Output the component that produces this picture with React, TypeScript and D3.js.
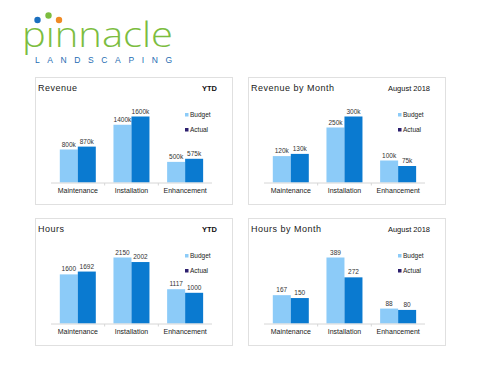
import * as d3 from 'd3';

const categories = ['Maintenance', 'Installation', 'Enhancement'];
const seriesNames = ['Budget', 'Actual'];

const revenueBudget = [800, 1400, 500];
const revenueActual = [870, 1600, 575];
const revenueMonthBudget = [120, 250, 100];
const revenueMonthActual = [130, 300, 75];
const hoursBudget = [1600, 2150, 1117];
const hoursActual = [1692, 2002, 1000];
const hoursMonthBudget = [167, 389, 88];
const hoursMonthActual = [150, 272, 80];

const panels = [
  { title: 'Revenue', period: 'YTD', budget: revenueBudget, actual: revenueActual, suffix: 'k', x: 35, y: 77 },
  { title: 'Revenue by Month', period: 'August 2018', budget: revenueMonthBudget, actual: revenueMonthActual, suffix: 'k', x: 248, y: 77 },
  { title: 'Hours', period: 'YTD', budget: hoursBudget, actual: hoursActual, suffix: '', x: 35, y: 218 },
  { title: 'Hours by Month', period: 'August 2018', budget: hoursMonthBudget, actual: hoursMonthActual, suffix: '', x: 248, y: 218 },
];

const BUDGET = '#8ccbf8';
const ACTUAL = '#0a7ad0';
const LEGEND = ['#8ccbf8', '#2c1f6e'];
const FONT = '"Liberation Sans", Arial, sans-serif';

const PW = 197;
const PH = 127;
const BASE = 105.5;

function Panel({ p }: { p: (typeof panels)[number] }) {
  const x0 = d3.scaleBand<string>().domain(categories).range([16, 177]);
  const x1 = d3.scaleBand<string>().domain(seriesNames).range([8.8, 44.8]);
  const max = d3.max([...p.budget, ...p.actual]) ?? 1;
  const y = d3.scaleLinear().domain([0, max]).range([BASE, BASE - 66]);
  const rows = categories.map((c, i) => ({ c, vals: [p.budget[i], p.actual[i]] }));

  return (
    <g transform={`translate(${p.x},${p.y})`}>
      <rect x={0.5} y={0.5} width={PW} height={PH} fill="#fff" stroke="#e0e0e0" />
      <text x={3} y={14} fontSize={9} letterSpacing={0.5} fill="#222">{p.title}</text>
      <text x={182} y={14} fontSize={7.5} textAnchor="end" fill="#111" fontWeight={p.period === 'YTD' ? 'bold' : 'normal'}>
        {p.period}
      </text>

      {rows.map((r) => (
        <g key={r.c} transform={`translate(${x0(r.c)},0)`}>
          {r.vals.map((v, j) => {
            const bx = x1(seriesNames[j]) ?? 0;
            const bw = x1.bandwidth();
            return (
              <g key={j}>
                <rect x={bx} y={y(v)} width={bw} height={BASE - y(v)} fill={j === 0 ? BUDGET : ACTUAL} />
                <text x={bx + bw / 2} y={y(v) - 3} fontSize={6.5} textAnchor="middle" fill="#333">
                  {`${v}${p.suffix}`}
                </text>
              </g>
            );
          })}
          <text x={x0.bandwidth() / 2} y={BASE + 10} fontSize={7} textAnchor="middle" fill="#222">{r.c}</text>
        </g>
      ))}

      <line x1={16} x2={177} y1={BASE + 0.5} y2={BASE + 0.5} stroke="#d6d6d6" />
      {x0.domain().slice(1).map((c) => (
        <line key={c} x1={x0(c)} x2={x0(c)} y1={BASE + 0.5} y2={BASE + 3} stroke="#d6d6d6" />
      ))}

      {seriesNames.map((s, i) => (
        <g key={s} transform={`translate(150,${40 + i * 15})`}>
          <rect x={0} y={-4} width={3.5} height={3.5} fill={LEGEND[i]} />
          <text x={5} y={0} fontSize={6.5} fill="#222">{s}</text>
        </g>
      ))}
    </g>
  );
}

export default function App() {
  return (
    <svg width={500} height={386} style={{ position: 'absolute', left: 0, top: 0 }} fontFamily={FONT}>
      <rect width={500} height={386} fill="#fff" />
      <g>
        <text x={22} y={47} fontSize={35} fontFamily='"Open Sans", sans-serif' fontWeight={300} fill="#7cbd3f"
          textLength={151} lengthAdjust="spacingAndGlyphs">
          pınnacle
        </text>
        <circle cx={37.5} cy={20} r={3.2} fill="#1b6fbf" />
        <circle cx={48.5} cy={15.5} r={3.2} fill="#7cbd3f" />
        <circle cx={59} cy={20} r={3.2} fill="#f08a24" />
        <text x={35} y={63} fontSize={8.5} fill="#1f6db3" textLength={137} lengthAdjust="spacing">
          LANDSCAPING
        </text>
      </g>
      {panels.map((p) => (
        <Panel key={p.title} p={p} />
      ))}
    </svg>
  );
}
